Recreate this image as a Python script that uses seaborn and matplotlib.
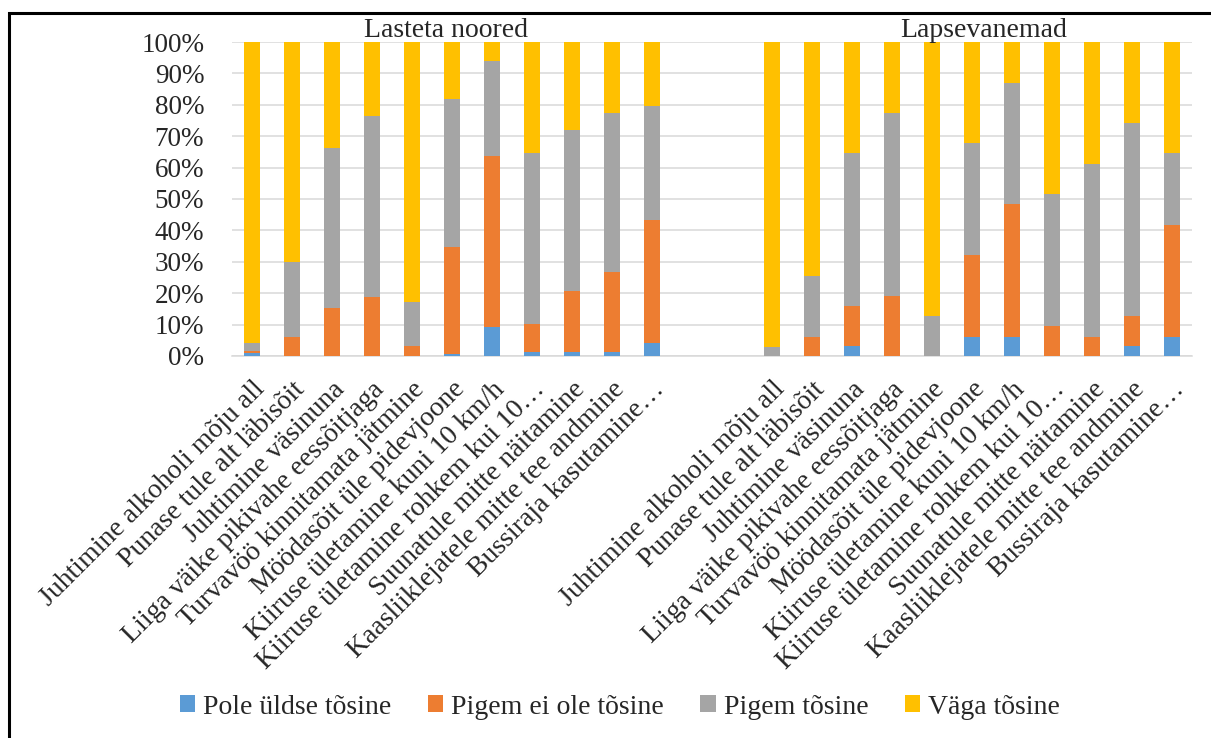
import numpy as np
import pandas as pd
import matplotlib
matplotlib.use("Agg")
import matplotlib.pyplot as plt
from matplotlib.patches import Patch, Rectangle
from matplotlib.ticker import PercentFormatter
import seaborn as sns

# Behaviours rated by respondents
behaviours = [
    "Juhtimine alkoholi mõju all",
    "Punase tule alt läbisõit",
    "Juhtimine väsinuna",
    "Liiga väike pikivahe eessõitjaga",
    "Turvavöö kinnitamata jätmine",
    "Möödasõit üle pidevjoone",
    "Kiiruse ületamine kuni 10 km/h",
    "Kiiruse ületamine rohkem kui 10…",
    "Suunatule mitte näitamine",
    "Kaasliiklejatele mitte tee andmine",
    "Bussiraja kasutamine…",
]
groups = ["Lasteta noored", "Lapsevanemad"]
series = ["Pole üldse tõsine", "Pigem ei ole tõsine", "Pigem tõsine", "Väga tõsine"]
colors = ["#5B9BD5", "#ED7D31", "#A5A5A5", "#FFC000"]

# Shares (%) – young people without children
noored_pole = [0.8, 0.0, 0.0, 0.0, 0.0, 0.7, 9.3, 1.4, 1.4, 1.4, 4.1]
noored_pigem_ei = [0.8, 5.9, 15.4, 18.8, 3.2, 34.0, 54.5, 8.8, 19.2, 25.5, 39.1]
noored_pigem = [2.4, 24.1, 50.7, 57.7, 13.9, 47.0, 30.2, 54.4, 51.5, 50.4, 36.4]
noored_vaga = [96.0, 70.0, 33.9, 23.5, 82.9, 18.3, 6.0, 35.4, 27.9, 22.7, 20.4]

# Shares (%) – parents
vanemad_pole = [0.0, 0.0, 3.1, 0.0, 0.0, 6.2, 6.2, 0.0, 0.0, 3.1, 6.2]
vanemad_pigem_ei = [0.0, 6.2, 12.9, 19.1, 0.0, 25.9, 42.1, 9.5, 6.2, 9.7, 35.6]
vanemad_pigem = [3.0, 19.3, 48.5, 58.2, 12.8, 35.6, 38.8, 42.0, 55.1, 61.3, 22.7]
vanemad_vaga = [97.0, 74.5, 35.5, 22.7, 87.2, 32.3, 12.9, 48.5, 38.7, 25.9, 35.5]

n = len(behaviours)
gap = 2
pos = list(range(n)) + list(range(n + gap, 2 * n + gap))

df = pd.DataFrame({
    "pos": pos,
    "label": behaviours + behaviours,
    series[0]: noored_pole + vanemad_pole,
    series[1]: noored_pigem_ei + vanemad_pigem_ei,
    series[2]: noored_pigem + vanemad_pigem,
    series[3]: noored_vaga + vanemad_vaga,
})
for s in series:
    df[s] = df[s] / 100.0
cum = df[series].cumsum(axis=1)
for s in series:
    df["top_" + s] = cum[s]

sns.set_style("white")
plt.rcParams["font.family"] = ["Liberation Serif", "DejaVu Serif"]
plt.rcParams["font.size"] = 20

fig = plt.figure(figsize=(12.11, 7.38), dpi=100)
ax = fig.add_axes([232 / 1211, 1 - 356 / 738, 960 / 1211, 314 / 738])

# Stacked bars: draw cumulative tops from the highest layer down
for s, c in reversed(list(zip(series, colors))):
    sns.barplot(data=df, x="pos", y="top_" + s, color=c, saturation=1,
                native_scale=True, width=0.4, linewidth=0, ax=ax, zorder=3)

ax.set_xlim(-0.5, 2 * n + gap - 0.5)
ax.set_ylim(0, 1)
ax.set_yticks(np.arange(0, 1.01, 0.1))
ax.yaxis.set_major_formatter(PercentFormatter(1.0, decimals=0))
ax.grid(axis="y", color="#D9D9D9", linewidth=1.1, zorder=0)
ax.grid(axis="x", visible=False)
for side in ["top", "right", "left"]:
    ax.spines[side].set_visible(False)
ax.spines["bottom"].set_color("#D9D9D9")
ax.spines["bottom"].set_linewidth(1.1)
ax.set_xlabel("")
ax.set_ylabel("")

ax.set_xticks(df["pos"])
ax.set_xticklabels(df["label"], rotation=45, ha="right", rotation_mode="anchor",
                   fontsize=20)
ax.tick_params(axis="x", length=0, pad=15)
ax.tick_params(axis="y", length=0, pad=20, labelsize=19.5)
for lbl in ax.get_yticklabels():
    lbl.set_horizontalalignment("right")

# Group titles
fig.text(446 / 1211, 1 - 37 / 738, groups[0], ha="center", va="baseline", fontsize=20)
fig.text(984 / 1211, 1 - 37 / 738, groups[1], ha="center", va="baseline", fontsize=20)

handles = [Patch(facecolor=c, edgecolor="none", label=s) for s, c in zip(series, colors)]
fig.legend(handles=handles, loc="center", bbox_to_anchor=(620 / 1211, 1 - 707 / 738),
           ncol=4, frameon=False, fontsize=20, handlelength=0.55, handleheight=0.55,
           handletextpad=0.3, columnspacing=1.3)

# Chart-area frame
fig.patches.append(Rectangle((9 / 1211, -0.05), 1.1, 1 - 13 / 738 + 0.05,
                             transform=fig.transFigure, fill=False,
                             edgecolor="black", linewidth=2.2, zorder=10))

fig.savefig("out.png", dpi=100)
